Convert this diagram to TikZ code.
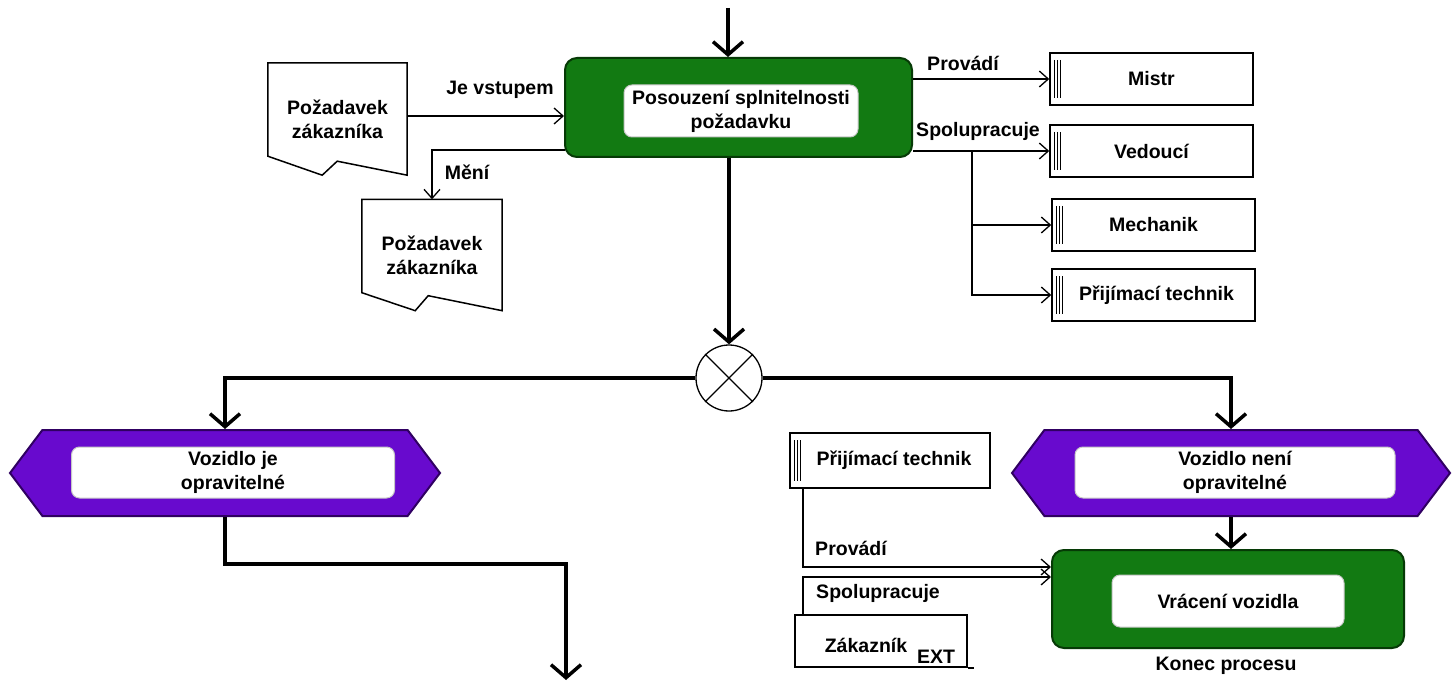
\documentclass[tikz,border=0pt]{standalone}
\usepackage{fontspec}
\setmainfont{Liberation Sans}
\usetikzlibrary{arrows.meta,shapes.symbols,calc}

\definecolor{procgreen}{RGB}{18,122,18}
\definecolor{procedge}{RGB}{6,58,6}
\definecolor{evpurple}{RGB}{104,10,206}
\definecolor{evedge}{RGB}{48,0,98}

\tikzset{
  lbl/.style={font=\bfseries\fontsize{19.5}{24}\selectfont, align=center, inner sep=0pt},
  procbox/.style={draw=procedge, fill=procgreen, line width=2pt, rounded corners=12pt, inner sep=0pt},
  innerbox/.style={lbl, draw=black!22, fill=white, line width=1pt, rounded corners=8pt},
  eventbox/.style={signal, signal to=west and east, signal pointer angle=106,
    draw=evedge, fill=evpurple, line width=2pt, inner sep=0pt},
  rolebox/.style={lbl, draw, fill=white, line width=1.5pt, minimum width=203pt, minimum height=52pt,
    path picture={\foreach \d in {4,7,10}{
      \draw[line width=1pt] ([xshift=\d pt,yshift=-7pt]path picture bounding box.north west)
        -- ([xshift=\d pt,yshift=7pt]path picture bounding box.south west);}}},
  plainbox/.style={lbl, draw, fill=white, line width=1.5pt},
  docline/.style={line width=1.5pt, line join=miter},
  docnode/.style={lbl},
  xorgate/.style={circle, draw, line width=1.3pt, minimum size=66pt, inner sep=0pt, fill=white},
  flow/.style={line width=3.5pt, -{Straight Barb[length=13pt,width=30pt]}},
  link/.style={line width=1.3pt, -{Straight Barb[length=9pt,width=16pt]}},
}

\begin{document}
\begin{tikzpicture}[x=1pt,y=-1pt]
  \path[use as bounding box, fill=white] (0,0) rectangle (1452,682);

  % ---- main process: assessment of the request ----
  \node[procbox, minimum width=347pt, minimum height=99pt] (posouz) at (738.5,107.5) {};
  \node[innerbox, minimum width=234pt, minimum height=52pt] (posouzin) at (741,111)
    {Posouzení splnitelnosti\\požadavku};

  % ---- documents ----
  \node[docnode, minimum width=139pt, minimum height=112pt] (doc1) at (337.5,119) {Požadavek\\zákazníka};
  \draw[docline] (doc1.north west) -- (doc1.north east) -- (doc1.south east)
    -- ++(-70,-14) -- ++(-15,14) -- ($(doc1.south west)+(0,-19)$) -- cycle;

  \node[docnode, minimum width=140pt, minimum height=111pt] (doc2) at (432,255) {Požadavek\\zákazníka};
  \draw[docline] (doc2.north west) -- (doc2.north east) -- (doc2.south east)
    -- ++(-74,-15) -- ++(-13,15) -- ($(doc2.south west)+(0,-18)$) -- cycle;

  % ---- roles ----
  \node[rolebox] (mistr) at (1151.5,79) {Mistr};
  \node[rolebox] (vedouci) at (1151.5,151) {Vedoucí};
  \node[rolebox] (mechanik) at (1153.5,225) {Mechanik};
  \node[rolebox] (prijem) at (1153.5,295) {\hspace{6pt}Přijímací technik};

  % ---- XOR connector ----
  \node[xorgate] (xor) at (729,378) {};
  \draw[line width=1.3pt] (xor.north west) -- (xor.south east) (xor.north east) -- (xor.south west);

  % ---- events ----
  \node[eventbox, minimum width=430pt, minimum height=86pt] (vjo) at (225,473) {};
  \node[innerbox, minimum width=323pt, minimum height=51pt] (vjoin) at (233,472.5) {Vozidlo je\\opravitelné};

  \node[eventbox, minimum width=438pt, minimum height=86pt] (vne) at (1231,473) {};
  \node[innerbox, minimum width=320pt, minimum height=51pt] (vnein) at (1235,472.5) {Vozidlo není\\opravitelné};

  % ---- return of the vehicle ----
  \node[procbox, minimum width=352pt, minimum height=98pt] (vrac) at (1228,599) {};
  \node[innerbox, minimum width=232pt, minimum height=52pt] (vracin) at (1228,601) {Vrácení vozidla};
  \node[lbl] (konec) at (1226,666) {Konec procesu};

  % ---- roles of the return ----
  \node[rolebox, minimum width=200pt, minimum height=55pt] (prijem2) at (890,460.5) {\hspace{8pt}Přijímací technik};
  \node[plainbox, minimum width=172pt, minimum height=52pt] (zak) at (881,641) {};
  \draw[line width=1.5pt] (zak.south east) -- ++(6,0);
  \node[lbl] (zaktxt) at (866,645) {Zákazník};
  \node[lbl] (zakext) at (936,657) {EXT};

  % ---- flows ----
  \coordinate (inflow) at (728,8);
  \draw[flow] (inflow) -- (inflow |- posouz.north);
  \draw[flow] (xor.north |- posouz.south) -- (xor.north);
  \draw[flow] (xor.west) -| (vjo.north);
  \draw[flow] (xor.east) -| (vne.north);
  \draw[flow] (vne.south) -- (vne.south |- vrac.north);
  \coordinate (outrow) at (0,564);
  \coordinate (outend) at (566,680);
  \draw[flow] (vjo.south) -- (vjo.south |- outrow) -| (outend);

  % ---- links of the assessment ----
  \draw[link] (doc1.east |- 0,116) -- (posouz.west |- 0,116);
  \node[lbl] (jevst) at (500,90) {Je vstupem};
  \coordinate (menistart) at (565,150);
  \draw[link] (menistart) -| (doc2.north);
  \node[lbl] (meni) at (467,172) {Mění};

  \draw[link] (posouz.east |- mistr.west) -- (mistr.west);
  \node[lbl] (provadi) at (963,63) {Provádí};
  \coordinate (branch) at (972,151);
  \draw[link] (posouz.east |- vedouci.west) -- (vedouci.west);
  \node[lbl] (spolu) at (978,131) {Spolupracuje};
  \draw[link] (branch) |- (mechanik.west);
  \draw[link] (branch) |- (prijem.west);

  % ---- links of the return ----
  \coordinate (pv) at (803,567);
  \draw[link] (pv |- prijem2.south) -- (pv) -- (pv -| vrac.west);
  \node[lbl] (provadi2) at (851,548) {Provádí};
  \coordinate (sp) at (803,577);
  \draw[link] (sp |- zak.north) -- (sp) -- (sp -| vrac.west);
  \node[lbl] (spolu2) at (878,593) {Spolupracuje};
\end{tikzpicture}
\end{document}
